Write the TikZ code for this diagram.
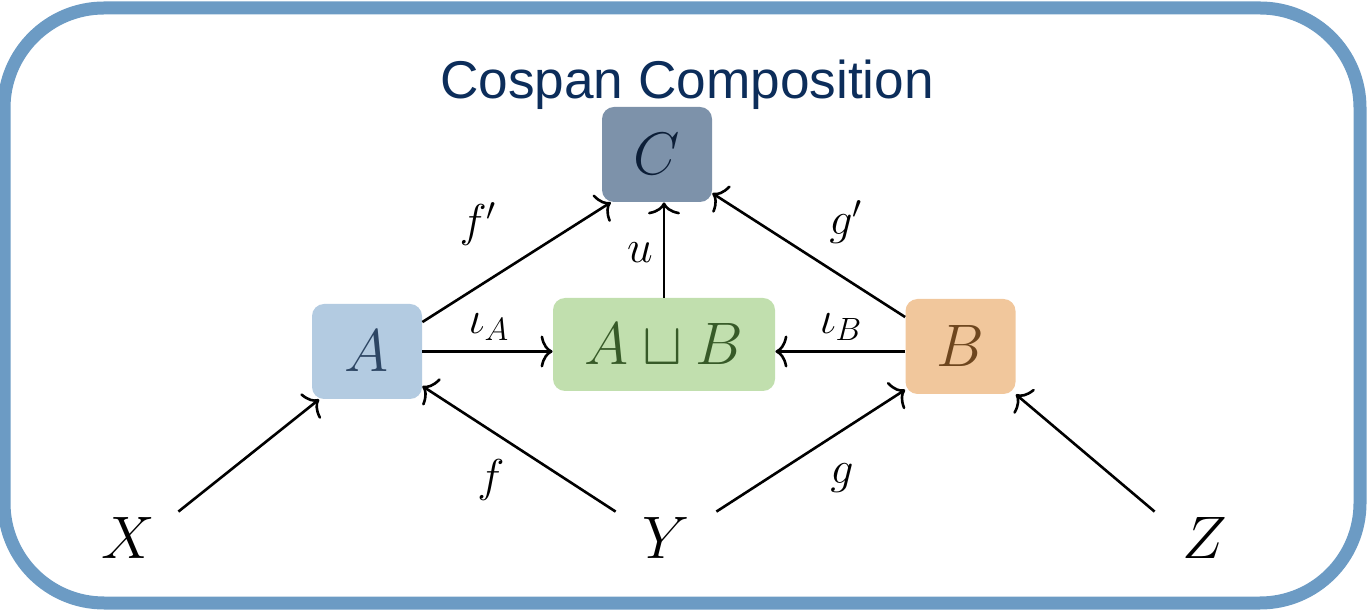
\RequirePackage{fix-cm}
\documentclass[tikz,border=0pt]{standalone}
\usepackage{amsmath}
\usepackage{amssymb}
\usepackage{fontspec}
\usepackage{tikz}
\usetikzlibrary{arrows.meta,positioning}
\newfontfamily\titlefont{Liberation Sans}
\definecolor{frameblue}{RGB}{108,155,196}
\definecolor{titleblue}{RGB}{12,45,90}
\definecolor{cfill}{RGB}{125,146,170}
\definecolor{ctext}{RGB}{12,30,55}
\definecolor{afill}{RGB}{179,203,225}
\definecolor{atext}{RGB}{45,70,100}
\definecolor{abfill}{RGB}{193,223,174}
\definecolor{abtext}{RGB}{55,90,40}
\definecolor{bfill}{RGB}{241,199,156}
\definecolor{btext}{RGB}{110,70,30}

\begin{document}
\begin{tikzpicture}[x=0.5pt,y=0.5pt,
   box/.style={rounded corners=6pt,minimum width=55pt,minimum height=47.5pt,
               inner sep=0pt,font=\fontsize{30}{36}\selectfont},
   obj/.style={minimum width=50pt,minimum height=26pt,inner sep=0pt,
               font=\fontsize{30}{36}\selectfont},
   lbl/.style={inner sep=0pt,font=\fontsize{23}{28}\selectfont},
   arr/.style={-{To[length=6pt,width=16pt]},line width=1.3pt}]
  \useasboundingbox (0,0) rectangle (1368,615);
  \draw[frameblue,line width=6.5pt,rounded corners=50pt] (4,12) rectangle (1360,607);
  \node[anchor=base,text=titleblue,font=\titlefont\fontsize{26.6}{30}\selectfont]
       (title) at (687,516) {Cospan Composition};
  % objects
  \node[box,fill=cfill,text=ctext]   (C)  at (657,460.5) {$C$};
  \node[box,fill=afill,text=atext]   (A)  at (367,263.5) {$A$};
  \node[box,fill=abfill,text=abtext,minimum width=111pt,minimum height=46.5pt]
       (AB) at (664,270.5) {$A\sqcup B$};
  \node[box,fill=bfill,text=btext]   (B)  at (960.5,268.5) {$B$};
  \node[obj] (X) at (128,77)  {$X$};
  \node[obj] (Y) at (666,77)  {$Y$};
  \node[obj] (Z) at (1205,77) {$Z$};
  % morphisms
  \draw[arr] (X.north east) -- (A.225);
  \draw[arr] (Y.north west) -- (A.328);
  \draw[arr] (Y.north east) -- (B.218);
  \draw[arr] (Z.north west) -- (B.south east);
  \draw[arr] (A.east) -- (AB.west |- A.east);
  \draw[arr] (B.west |- A.east) -- (AB.east |- A.east);
  \draw[arr] (AB.north) -- (AB.north |- C.south);
  \draw[arr] (A.28) -- (C.226);
  \draw[arr] (B.152) -- (C.325);
  % labels
  \node[lbl] (lfp) at (478,391) {$f'$};
  \node[lbl] (lu)  at (640,362) {$u$};
  \node[lbl] (lgp) at (846,393) {$g'$};
  \node[lbl] (liA) at (489,288) {$\iota_A$};
  \node[lbl] (liB) at (841,288) {$\iota_B$};
  \node[lbl] (lf)  at (491,135) {$f$};
  \node[lbl] (lg)  at (842,137) {$g$};
\end{tikzpicture}
\end{document}
